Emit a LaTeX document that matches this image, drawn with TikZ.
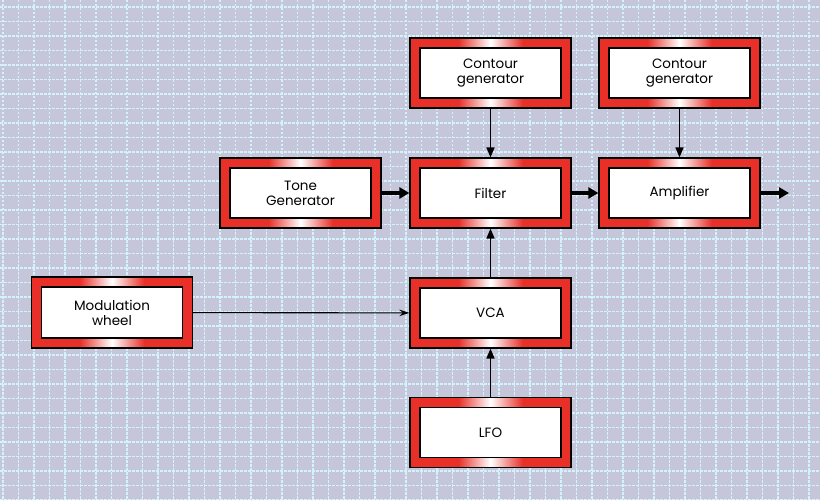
\documentclass[tikz,border=0pt]{standalone}
\usepackage{fontspec}
\setmainfont{Poppins}
\usetikzlibrary{arrows.meta,calc}
\definecolor{bgc}{RGB}{198,198,218}
\definecolor{gridc}{RGB}{212,242,252}
\definecolor{redc}{RGB}{232,48,40}
\tikzset{
  blk/.style={draw=black, line width=1.2pt, fill=redc,
    minimum width=161pt, minimum height=70pt, inner sep=0pt,
    align=center, font=\fontsize{13.5}{15}\selectfont, text=black,
    path picture={
      \coordinate (pnw) at (path picture bounding box.north west);
      \coordinate (pne) at (path picture bounding box.north east);
      \coordinate (psw) at (path picture bounding box.south west);
      \coordinate (pse) at (path picture bounding box.south east);
      \shade[left color=redc, right color=white]
        ($(pnw)!0.3!(pne)$) rectangle ([yshift=-10pt]$(pnw)!0.5!(pne)$);
      \shade[left color=white, right color=redc]
        ($(pnw)!0.5!(pne)$) rectangle ([yshift=-10pt]$(pnw)!0.7!(pne)$);
      \shade[left color=redc, right color=white]
        ($(psw)!0.3!(pse)$) rectangle ([yshift=10pt]$(psw)!0.5!(pse)$);
      \shade[left color=white, right color=redc]
        ($(psw)!0.5!(pse)$) rectangle ([yshift=10pt]$(psw)!0.7!(pse)$);
      \draw[fill=white, line width=1.2pt]
        ([shift={(10pt,-10pt)}]pnw) rectangle ([shift={(-10pt,10pt)}]pse);
    }},
  thick arrow/.style={line width=3.5pt, -{Triangle[length=10pt,width=11pt]}},
  thin arrow/.style={line width=1.6pt, -{Triangle[length=10pt,width=8pt]}},
  fine arrow/.style={line width=1.1pt, -{Stealth[length=10pt,width=6.5pt]}}
}
\begin{document}
\begin{tikzpicture}[x=1pt,y=-1pt]
  \fill[bgc] (0,0) rectangle (820,500);
  \useasboundingbox (0,0) rectangle (820,500);
  \begin{scope}[gridc, line width=1.5pt, dash pattern=on 2.5pt off 1.5pt]
    \foreach \gx in {3,18.5,...,820} { \draw (\gx,0) -- (\gx,500); }
    \foreach \gy in {7,21.5,...,500} { \draw (0,\gy) -- (820,\gy); }
  \end{scope}

  \node[blk] (cg1) at (490.5,73) {Contour\\generator};
  \node[blk] (cg2) at (679.5,73) {Contour\\generator};
  \node[blk] (tone) at (300.5,193) {Tone\\Generator};
  \node[blk] (filter) at (490.5,193) {Filter};
  \node[blk] (amp) at (679.5,193) {Amplifier};
  \node[blk, minimum height=71pt] (mod) at (112,312.5) {Modulation\\wheel};
  \node[blk] (vca) at (490.5,313) {VCA};
  \node[blk] (lfo) at (490.5,432.5) {LFO};
  \coordinate (out) at (789,193);

  \draw[thick arrow] (tone) -- (filter);
  \draw[thick arrow] (filter) -- (amp);
  \draw[thick arrow] (amp) -- (out);
  \draw[thin arrow] (cg1) -- (filter);
  \draw[thin arrow] (cg2) -- (amp);
  \draw[thin arrow] (vca) -- (filter);
  \draw[thin arrow] (lfo) -- (vca);
  \draw[fine arrow] (mod) -- (vca);
\end{tikzpicture}
\end{document}
